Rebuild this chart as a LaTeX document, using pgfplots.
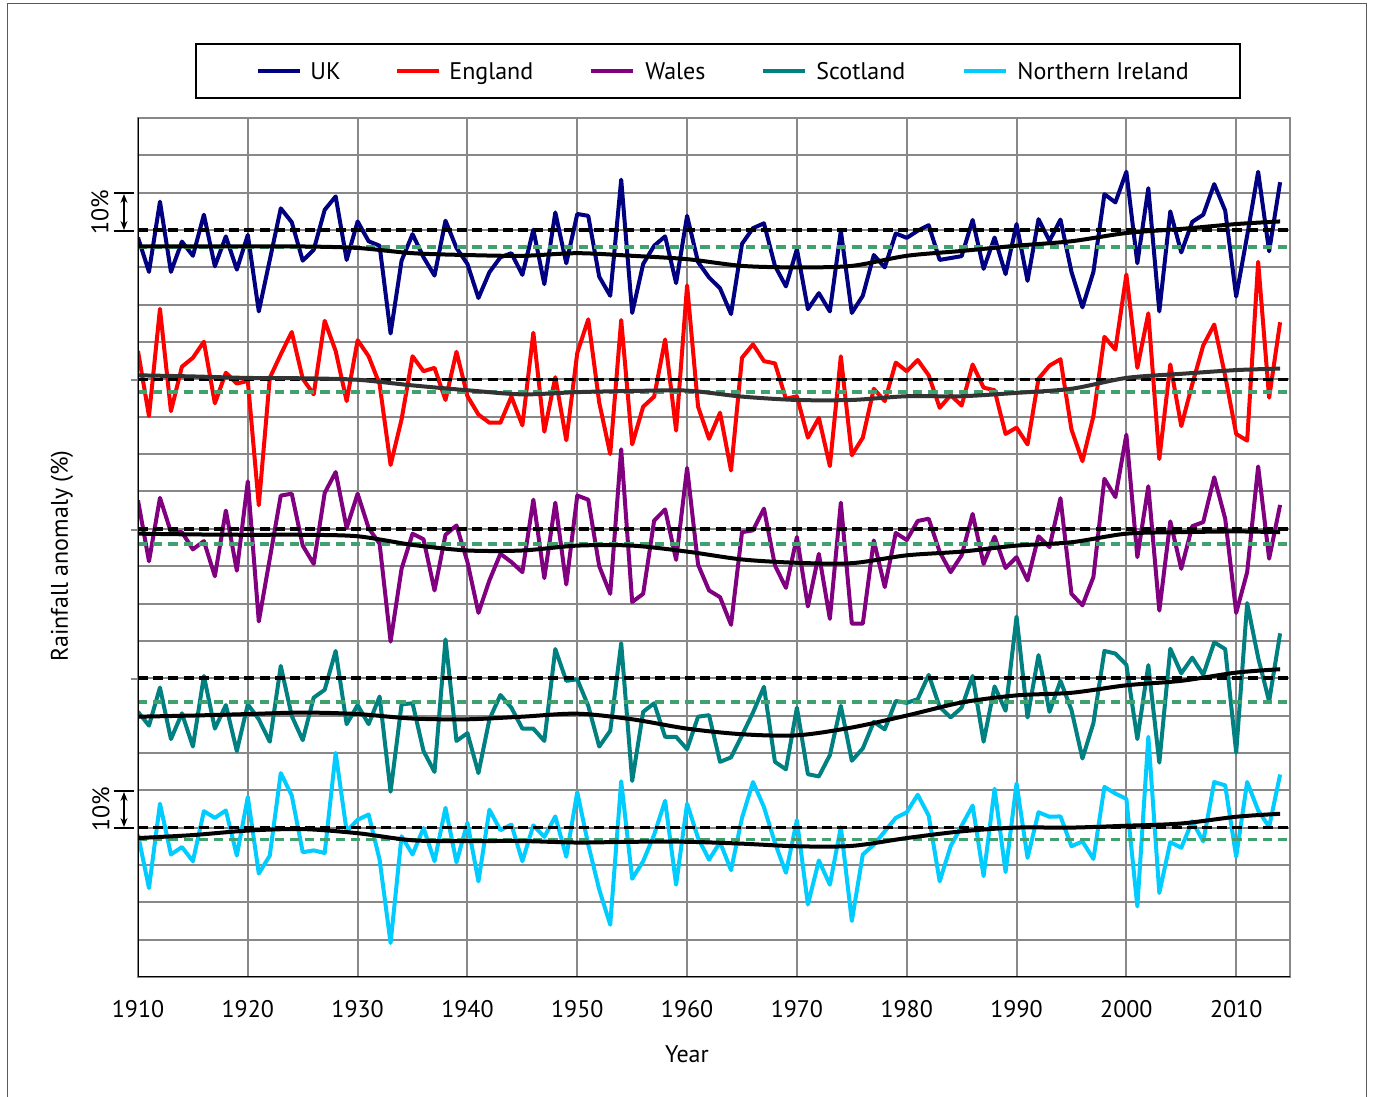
\documentclass[border=0pt]{standalone}
\usepackage{pgfplots}
\pgfplotsset{compat=1.18}
\usepackage{pgfplotstable}
\usepackage{fontspec}
\setmainfont{PT Sans}
\usetikzlibrary{arrows.meta}

\definecolor{ukc}{RGB}{0,0,128}
\definecolor{engc}{RGB}{255,0,0}
\definecolor{walc}{RGB}{128,0,128}
\definecolor{scoc}{RGB}{0,128,128}
\definecolor{nic}{RGB}{0,204,255}
\definecolor{avgc}{RGB}{64,160,110}
\definecolor{gridc}{RGB}{136,136,136}
\definecolor{framec}{RGB}{90,90,90}
\definecolor{engsm}{RGB}{51,51,51}

% anomalies (%) relative to each country's baseline
\pgfplotstableread{
year uk eng wal sco ni
1910 -2.0 7.6 7.6 -9.0 -1.9
1911 -11.2 -9.8 -8.7 -12.7 -16.2
1912 7.6 18.9 8.3 -2.5 6.4
1913 -11.2 -8.5 -0.9 -16.3 -7.2
1914 -3.1 3.4 -0.9 -9.4 -5.2
1915 -6.9 5.8 -5.5 -18.3 -9.0
1916 4.1 10.1 -3.3 0.6 4.4
1917 -9.7 -6.4 -12.7 -13.5 2.6
1918 -1.7 1.8 4.9 -7.2 4.6
1919 -10.6 -1.1 -11.2 -19.5 -7.5
1920 -1.3 -0.4 12.7 -7.0 8.2
1921 -21.8 -33.7 -24.8 -11.0 -12.3
1922 -8.0 0.4 -8.0 -17.0 -7.5
1923 5.8 6.7 8.9 3.3 14.6
1924 2.1 12.7 9.4 -10.1 8.6
1925 -8.2 0.2 -4.5 -16.6 -6.6
1926 -5.3 -4.0 -9.4 -5.2 -6.1
1927 5.4 15.7 9.6 -3.1 -6.8
1928 9.0 7.6 15.2 7.3 20.0
1929 -8.0 -5.8 0.2 -12.3 -1.0
1930 2.3 10.5 9.4 -7.2 2.1
1931 -3.0 6.2 0.2 -12.3 3.5
1932 -4.2 -1.3 -4.0 -4.9 -8.6
1933 -27.7 -22.9 -30.2 -30.4 -30.9
1934 -8.2 -10.7 -10.7 -7.0 -2.3
1935 -1.1 6.2 -1.3 -6.7 -7.2
1936 -7.3 2.2 -2.8 -19.5 -0.1
1937 -12.2 3.1 -16.5 -25.1 -9.0
1938 2.5 -5.5 -1.6 10.4 5.3
1939 -4.8 7.4 0.9 -16.8 -9.3
1940 -9.1 -4.5 -8.9 -14.7 1.3
1941 -18.2 -9.4 -22.5 -25.4 -14.4
1942 -11.3 -11.6 -13.8 -11.0 4.8
1943 -7.3 -11.6 -6.7 -4.5 -0.7
1944 -6.2 -4.6 -8.9 -7.9 0.8
1945 -12.0 -12.3 -11.6 -13.5 -9.0
1946 0.1 12.5 7.8 -13.5 0.6
1947 -14.5 -14.0 -13.2 -16.8 -2.5
1948 4.7 0.6 7.0 7.8 3.0
1949 -8.9 -16.3 -14.9 -0.7 -7.8
1950 4.3 7.1 8.9 -0.3 9.5
1951 3.8 16.1 7.8 -7.4 -4.6
1952 -12.5 -6.2 -10.0 -18.3 -16.6
1953 -17.6 -20.0 -17.4 -14.1 -26.0
1954 13.5 15.9 21.3 9.4 12.4
1955 -22.2 -17.4 -19.6 -27.5 -13.7
1956 -9.1 -7.3 -17.4 -9.0 -9.0
1957 -4.2 -4.6 2.2 -6.7 -1.9
1958 -1.7 10.7 5.2 -15.7 7.2
1959 -14.2 -13.7 -8.3 -15.7 -15.3
1960 3.8 25.2 16.3 -19.0 6.4
1961 -8.6 -7.3 -9.6 -10.3 -2.8
1962 -12.7 -15.9 -16.5 -9.9 -8.6
1963 -15.6 -8.9 -18.3 -22.4 -3.9
1964 -22.5 -24.4 -25.7 -21.2 -11.4
1965 -3.7 5.8 -0.9 -15.3 2.6
1966 0.5 9.4 -0.4 -9.2 12.2
1967 1.8 4.9 5.4 -2.3 5.5
1968 -9.6 4.3 -9.8 -22.4 -4.1
1969 -15.1 -5.2 -15.8 -24.4 -12.1
1970 -5.1 -4.5 -2.2 -7.9 2.0
1971 -21.2 -15.6 -20.8 -25.7 -20.6
1972 -16.9 -10.3 -6.7 -26.3 -8.8
1973 -21.8 -23.2 -24.1 -20.6 -15.3
1974 -0.2 6.2 7.0 -7.4 0.1
1975 -22.2 -20.3 -25.4 -22.1 -25.0
1976 -17.6 -15.6 -25.4 -18.8 -7.2
1977 -6.7 -2.5 -3.1 -11.7 -4.6
1978 -10.0 -5.8 -15.6 -13.7 -1.0
1979 -0.9 4.5 -1.1 -6.1 2.6
1980 -2.1 2.2 -3.0 -6.6 4.1
1981 -0.2 5.2 2.1 -5.6 8.8
1982 1.3 1.1 2.7 0.9 3.2
1983 -8.0 -7.6 -6.2 -7.7 -14.4
1984 -7.5 -4.2 -11.6 -10.5 -5.0
1985 -7.0 -7.0 -7.1 -7.9 0.5
1986 2.7 4.0 4.0 0.6 5.9
1987 -10.4 -2.2 -9.4 -17.0 -13.0
1988 -2.0 -2.9 -2.1 -2.2 10.4
1989 -11.8 -14.6 -10.5 -8.7 -11.9
1990 1.6 -12.9 -7.6 16.5 11.8
1991 -13.6 -17.4 -13.8 -10.5 -8.1
1992 2.9 0.2 -2.0 6.2 4.1
1993 -2.9 3.7 -4.9 -9.0 2.9
1994 2.8 5.4 8.2 -0.7 3.0
1995 -11.2 -13.4 -17.4 -8.5 -5.0
1996 -20.7 -21.9 -20.5 -21.5 -3.7
1997 -11.2 -9.8 -12.9 -12.0 -8.4
1998 9.6 11.4 13.4 7.3 10.9
1999 7.4 8.0 8.5 6.6 9.1
2000 15.6 28.1 25.2 3.6 7.7
2001 -8.9 3.1 -7.6 -16.3 -21.1
2002 11.2 17.7 11.4 3.5 24.3
2003 -21.8 -21.3 -21.9 -22.6 -17.5
2004 5.0 4.0 2.0 7.9 -3.9
2005 -6.0 -12.5 -10.7 1.3 -5.4
2006 2.2 -1.3 0.7 5.5 1.7
2007 4.1 9.1 1.8 0.9 -3.7
2008 12.3 14.7 13.8 9.6 12.2
2009 5.2 0.9 2.7 7.8 11.3
2010 -17.8 -14.6 -22.5 -19.9 -7.8
2011 -1.5 -16.4 -11.6 20.1 12.2
2012 15.6 31.5 16.7 5.5 4.6
2013 -5.7 -4.9 -8.0 -6.2 0.2
2014 12.8 15.3 6.4 12.0 14.2
}\annual

% smoothed series
\pgfplotstableread{
year uk eng wal sco ni
1910 -4.4 1.1 -1.3 -10.3 -2.8
1915 -4.4 0.8 -1.5 -10.0 -2.0
1920 -4.4 0.4 -1.6 -9.6 -0.8
1925 -4.4 0.3 -1.6 -9.2 -0.4
1930 -4.8 -0.1 -2.0 -9.6 -1.5
1935 -6.2 -1.6 -4.3 -10.8 -3.4
1940 -6.7 -2.9 -5.8 -11.0 -3.6
1945 -6.9 -4.0 -5.8 -10.3 -3.6
1950 -6.2 -3.4 -4.5 -9.5 -4.0
1955 -6.9 -3.1 -4.5 -11.0 -3.8
1960 -7.8 -3.0 -6.1 -13.5 -3.8
1965 -9.6 -4.6 -8.2 -15.0 -4.3
1970 -10.0 -5.5 -9.1 -15.3 -5.0
1975 -9.6 -5.5 -9.2 -13.2 -4.9
1980 -6.9 -4.5 -7.1 -10.0 -2.8
1985 -5.6 -4.5 -6.1 -6.5 -1.0
1990 -4.2 -3.6 -4.5 -4.6 0.0
1995 -3.0 -2.5 -3.6 -3.9 0.0
2000 -0.8 0.4 -1.3 -1.9 0.5
2005 0.3 1.5 -0.9 -0.7 1.1
2010 1.6 2.5 -0.7 1.5 2.9
2014 2.3 2.9 -0.9 2.4 3.7
}\smoothed

\tikzset{
  dline/.style={line width=2pt, line join=round},
  base/.style={black, line width=1.8pt, dash pattern=on 5pt off 2.6pt},
  avg/.style={avgc, line width=1.8pt, dash pattern=on 4.6pt off 3pt},
  sm/.style={line width=2pt, smooth},
}

\begin{document}
\fontsize{12pt}{14pt}\selectfont
\begin{tikzpicture}
\useasboundingbox (0,0) rectangle (686.5pt,548.5pt);
\begin{axis}[
  at={(69pt,60pt)}, anchor=south west,
  scale only axis, width=576pt, height=429.5pt,
  xmin=1910, xmax=2014.9, ymin=0, ymax=230,
  xtick={1910,1920,...,2010},
  ytick={0,10,...,230}, yticklabels={},
  grid=major, grid style={line width=1pt, draw=gridc},
  major tick length=0pt,
  axis line style={draw=gridc, line width=1pt},
  /pgf/number format/1000 sep={},
  /pgf/number format/assume math mode=true,
  xticklabel style={font=\fontsize{12pt}{14pt}\selectfont, yshift=-7.5pt},
]
% country series
\addplot[ukc, dline] table[x=year, y expr=\thisrow{uk}+200] {\annual};
\addplot[engc, dline] table[x=year, y expr=\thisrow{eng}+160] {\annual};
\addplot[walc, dline] table[x=year, y expr=\thisrow{wal}+120] {\annual};
\addplot[scoc, dline] table[x=year, y expr=\thisrow{sco}+80] {\annual};
\addplot[nic, dline] table[x=year, y expr=\thisrow{ni}+40] {\annual};
% baselines
\addplot[base] coordinates {(1910,200) (2014.9,200)};
\addplot[base] coordinates {(1910,160) (2014.9,160)};
\addplot[base] coordinates {(1910,120) (2014.9,120)};
\addplot[base] coordinates {(1910,80) (2014.9,80)};
\addplot[base] coordinates {(1910,40) (2014.9,40)};
% recent averages
\addplot[avg] coordinates {(1910,195.4) (2014.9,195.4)};
\addplot[avg] coordinates {(1910,156.7) (2014.9,156.7)};
\addplot[avg] coordinates {(1910,116.0) (2014.9,116.0)};
\addplot[avg] coordinates {(1910,73.6) (2014.9,73.6)};
\addplot[avg] coordinates {(1910,36.8) (2014.9,36.8)};
% smoothed
\addplot[black, sm] table[x=year, y expr=\thisrow{uk}+200] {\smoothed};
\addplot[engsm, sm] table[x=year, y expr=\thisrow{eng}+160] {\smoothed};
\addplot[black, sm] table[x=year, y expr=\thisrow{wal}+120] {\smoothed};
\addplot[black, sm] table[x=year, y expr=\thisrow{sco}+80] {\smoothed};
\addplot[black, sm] table[x=year, y expr=\thisrow{ni}+40] {\smoothed};
% black left and bottom axis lines
\draw[black, line width=1pt] (rel axis cs:0,1) -- (rel axis cs:0,0) -- (rel axis cs:1,0);
\end{axis}

\begin{scope}[x=0.5pt, y=-0.5pt, shift={(0pt,548.5pt)}]
  % outer frame
  \draw[framec, line width=0.6pt] (7.5,1120) -- (7.5,3.5) -- (1366.5,3.5) -- (1366.5,1120);
  % legend
  \draw[black, line width=0.6pt] (196,44) rectangle (1240,98);
  \draw[ukc, line width=2pt] (258,71) -- (300,71);
  \draw[engc, line width=2pt] (397,71) -- (439,71);
  \draw[walc, line width=2pt] (591,71) -- (633,71);
  \draw[scoc, line width=2pt] (763,71) -- (805,71);
  \draw[nic, line width=2pt] (964,71) -- (1006,71);
  \node[anchor=base west, inner sep=0pt] at (310,79.5) {UK};
  \node[anchor=base west, inner sep=0pt] at (449,79.5) {England};
  \node[anchor=base west, inner sep=0pt] at (645,79.5) {Wales};
  \node[anchor=base west, inner sep=0pt] at (816,79.5) {Scotland};
  \node[anchor=base west, inner sep=0pt] at (1017,79.5) {Northern Ireland};
  % axis labels
  \node[rotate=90, inner sep=0pt] at (62,556) {Rainfall anomaly (\%)};
  \node[inner sep=0pt, anchor=base] at (687,1063) {Year};
  % 10% scale markers
  \foreach \a/\b in {193/231, 791/828}{
    \draw[black, line width=0.6pt] (114,\a) -- (134,\a);
    \draw[black, line width=0.6pt] (114,\b) -- (134,\b);
    \draw[black, line width=0.6pt, {Stealth[length=4.5pt,width=3.5pt]}-{Stealth[length=4.5pt,width=3.5pt]}] (124,\a+1) -- (124,\b-1);
  }
  \node[rotate=90, inner sep=0pt] at (100,212) {10\%};
  \node[rotate=90, inner sep=0pt] at (101,809.5) {10\%};
  % small ticks at baselines
  \foreach \yy in {380,530,679}{
    \draw[gridc, line width=0.6pt] (131,\yy) -- (138,\yy);
  }
\end{scope}
\end{tikzpicture}
\end{document}
